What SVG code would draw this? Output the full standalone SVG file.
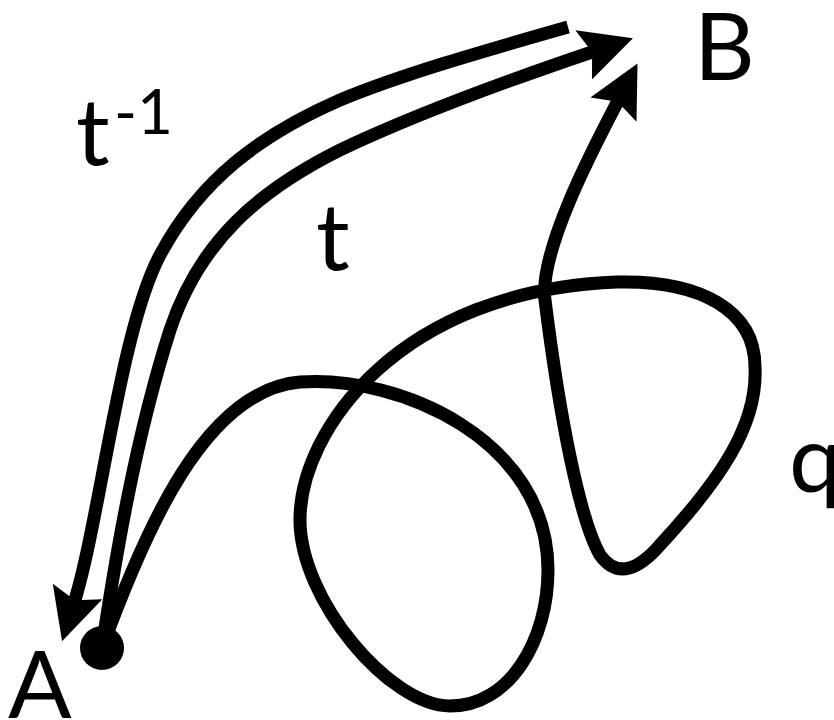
<svg xmlns="http://www.w3.org/2000/svg" width="834" height="720" viewBox="0 0 834 720">
  <style>
    .path { fill: none; stroke: #000; stroke-width: 13; stroke-linecap: butt; stroke-linejoin: round; }
    .label { font-family: "Lato", "Open Sans", "Liberation Sans", sans-serif; font-size: 94px; fill: #000; }
    .sup { font-size: 62px; }
  </style>
  <defs>
    <marker id="arrow" markerUnits="userSpaceOnUse" markerWidth="120" markerHeight="120" viewBox="-60 -60 120 120" refX="0" refY="0" orient="auto" overflow="visible">
      <path d="M40,0 L-12,-26 L-3,0 L-12,26 Z" fill="#000"/>
    </marker>
  </defs>
  <rect width="834" height="720" fill="#fff"/>
  <g id="connectors">
    <path id="t" class="path" d="M102,648 C115,560 135,440 170,330 C200,240 260,190 340,150 C420,112 515,78 595,51" marker-end="url(#arrow)"/>
    <path id="t-inverse" class="path" d="M568,27 C480,52 400,75 340,100 C260,135 200,180 160,255 C120,330 100,520 74,603" marker-end="url(#arrow)"/>
    <path id="q" class="path" d="M102,648 C145,530 205,390 300,382 C400,375 548,440 548,570 C548,640 510,706 450,706 C390,706 300,600 300,520 C300,430 400,290 617,282 C700,280 755,310 755,367 C758,425 720,480 660,545 C640,568 618,580 600,555 C580,520 560,420 545,300 C539,250 595,145 619,99" marker-end="url(#arrow)"/>
  </g>
  <g id="node-A">
    <circle cx="102" cy="648" r="22" fill="#000"/>
    <text class="label" x="8" y="718">A</text>
  </g>
  <g id="node-B">
    <text class="label" x="694" y="80">B</text>
  </g>
  <g id="label-t">
    <text class="label" x="316" y="270">t</text>
  </g>
  <g id="label-t-inv">
    <text class="label" x="76" y="165">t<tspan class="sup" x="114" y="134">-1</tspan></text>
  </g>
  <g id="label-q">
    <text class="label" x="789" y="492">q</text>
  </g>
</svg>
